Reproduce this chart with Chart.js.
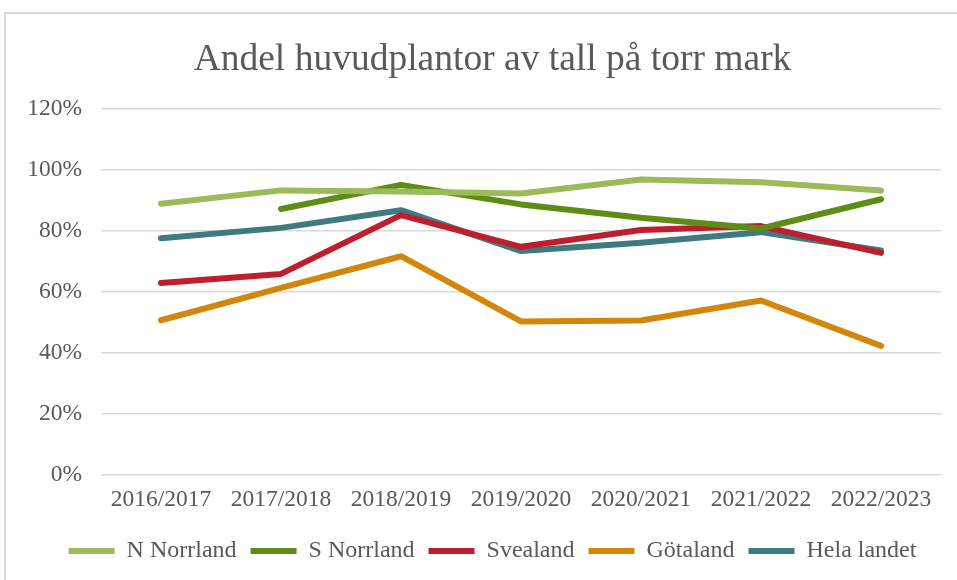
<!DOCTYPE html>
<html>
<head>
<meta charset="utf-8">
<script src="https://cdn.jsdelivr.net/npm/chart.js@4/dist/chart.umd.min.js"></script>
<style>
    html, body { margin: 0; padding: 0; background: #fff; }
    #wrap { position: relative; width: 957px; height: 580px; overflow: hidden; }
    #frame { position: absolute; left: 4px; top: 12px; width: 1000px; height: 600px;
             border-left: 2px solid #d9d9d9; border-top: 2px solid #d9d9d9; }
    #chart { position: absolute; left: 0; top: 0; }
</style>
</head>
<body>
<div id="wrap">
    <div id="frame"></div>
    <!-- the original chart runs past the right edge, so the canvas does too -->
    <canvas id="chart" width="985" height="580"></canvas>
</div>
<script>
    const seasons = ['2016/2017', '2017/2018', '2018/2019', '2019/2020', '2020/2021', '2021/2022', '2022/2023'];
    const nNorrland = [88.9, 93.3, 92.9, 92.3, 96.9, 96.0, 93.3];
    const sNorrland = [null, 87.2, 95.1, 88.7, 84.3, 80.8, 90.4];
    const svealand = [62.9, 65.9, 85.2, 74.8, 80.3, 81.6, 72.8];
    const gotaland = [50.7, 61.3, 71.7, 50.3, 50.6, 57.2, 42.3];
    const helaLandet = [77.6, 81.0, 86.8, 73.4, 76.1, 79.6, 73.6];
    const yTicks = [0, 20, 40, 60, 80, 100, 120];

    const textColor = '#595959';
    const serif = "'Liberation Serif', 'Times New Roman', serif";

    function line(label, data, color) {
        return {
            label: label,
            data: data,
            borderColor: color,
            backgroundColor: color,
            borderWidth: 6,
            borderCapStyle: 'round',
            borderJoinStyle: 'round',
            pointRadius: 0,
            pointHoverRadius: 0,
            tension: 0,
            fill: false
        };
    }

    new Chart(document.getElementById('chart'), {
        type: 'line',
        data: {
            labels: seasons,
            datasets: [
                line('N Norrland', nNorrland, '#9bbb59'),
                line('S Norrland', sNorrland, '#5f8c16'),
                line('Svealand', svealand, '#be1e2d'),
                line('Götaland', gotaland, '#d4860b'),
                line('Hela landet', helaLandet, '#3f7a81')
            ]
        },
        options: {
            responsive: false,
            animation: false,
            devicePixelRatio: 1,
            layout: { padding: { left: 0, right: 0, top: 0, bottom: 7 } },
            plugins: {
                tooltip: { enabled: false },
                title: {
                    display: true,
                    text: 'Andel huvudplantor av tall på torr mark',
                    color: textColor,
                    font: { family: serif, size: 37.5, weight: 'normal' },
                    padding: { top: 38, bottom: 26 }
                },
                legend: {
                    position: 'bottom',
                    labels: {
                        color: textColor,
                        font: { family: serif, size: 24 },
                        usePointStyle: true,
                        pointStyle: 'line',
                        pointStyleWidth: 46,
                        padding: 14
                    }
                }
            },
            scales: {
                x: {
                    offset: true,
                    grid: { display: false, drawTicks: false, offset: true },
                    border: { display: false },
                    ticks: {
                        color: textColor,
                        font: { family: serif, size: 23.5 },
                        maxRotation: 0,
                        autoSkip: false,
                        padding: 11
                    }
                },
                y: {
                    min: 0,
                    max: 120,
                    afterFit: function(scale) { scale.width = 101; },
                    afterBuildTicks: function(scale) {
                        scale.ticks = yTicks.map(v => ({ value: v }));
                    },
                    grid: { color: '#d9d9d9', lineWidth: 1.5, drawTicks: false },
                    border: { display: false },
                    ticks: {
                        color: textColor,
                        font: { family: serif, size: 23.5 },
                        padding: 19,
                        callback: v => v + '%'
                    }
                },
                // empty right axis, only there to keep the plot ending at x=941
                spacer: {
                    type: 'linear',
                    position: 'right',
                    afterFit: function(scale) { scale.width = 44; },
                    grid: { display: false, drawTicks: false },
                    border: { display: false },
                    ticks: { display: false }
                }
            }
        }
    });
</script>
</body>
</html>
